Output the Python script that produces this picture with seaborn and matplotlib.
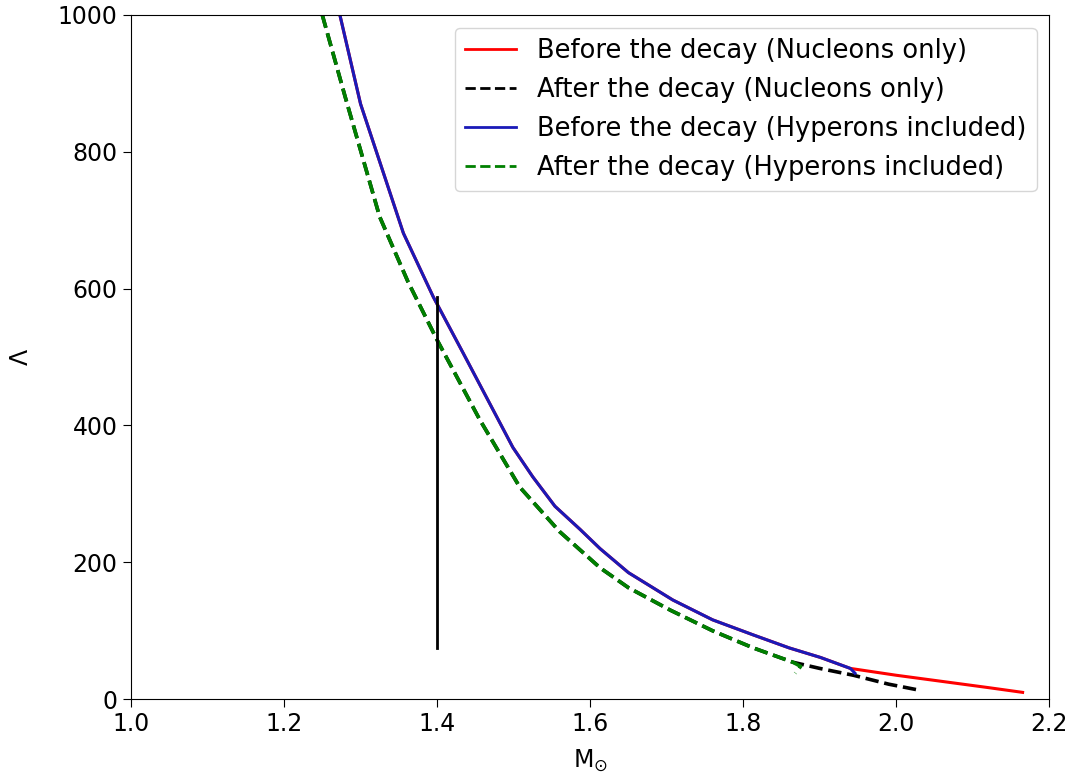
import pandas as pd
import seaborn as sns
import matplotlib.pyplot as plt

# Tidal deformability vs mass
m_before_hyp = [1.273, 1.30, 1.356, 1.395, 1.434, 1.499, 1.525, 1.554, 1.587, 1.613, 1.65, 1.708, 1.76, 1.813, 1.86, 1.901, 1.94, 1.946]
lam_before_hyp = [1000, 870, 681, 588, 506, 368, 325, 282, 248, 220, 185, 145, 116, 94, 75, 61, 45, 38]

m_before_nuc = m_before_hyp[:-1] + [2.0, 2.06, 2.12, 2.165]
lam_before_nuc = lam_before_hyp[:-1] + [35, 26, 17, 10]

m_after_hyp = [1.25, 1.28, 1.325, 1.362, 1.40, 1.456, 1.508, 1.56, 1.613, 1.65, 1.705, 1.76, 1.813, 1.865, 1.875, 1.868]
lam_after_hyp = [1000, 880, 705, 610, 525, 408, 310, 245, 192, 163, 130, 100, 75, 54, 48, 38]

m_after_nuc = m_after_hyp[:-2] + [1.90, 1.944, 1.99, 2.031]
lam_after_nuc = lam_after_hyp[:-2] + [45, 35, 22, 13]

m_bar = [1.4, 1.4]
lam_bar = [75, 588]

series = [
    ('Before the decay (Nucleons only)', m_before_nuc, lam_before_nuc, 'red', '-', 2.2),
    ('After the decay (Nucleons only)', m_after_nuc, lam_after_nuc, 'black', '--', 2.6),
    ('Before the decay (Hyperons included)', m_before_hyp, lam_before_hyp, '#1a1ab8', '-', 2.2),
    ('After the decay (Hyperons included)', m_after_hyp, lam_after_hyp, 'green', '--', 2.6),
]

plt.rcParams['font.size'] = 17
fig, ax = plt.subplots(figsize=(10.73, 7.83), dpi=100)
fig.subplots_adjust(left=0.122, right=0.978, top=0.981, bottom=0.107)

for label, m, lam, color, ls, lw in series:
    df = pd.DataFrame({'M': m, 'L': lam})
    sns.lineplot(data=df, x='M', y='L', sort=False, estimator=None, ax=ax,
                 color=color, linestyle=ls, linewidth=lw, label=label)

sns.lineplot(x=m_bar, y=lam_bar, sort=False, estimator=None, ax=ax,
             color='black', linewidth=2)

ax.set_xlim(1.0, 2.2)
ax.set_ylim(0, 1000)
ax.set_xlabel(r'M$_{\odot}$', fontsize=17, labelpad=8)
ax.set_ylabel(r'$\Lambda$', fontsize=17, labelpad=18)
ax.tick_params(labelsize=17, length=6)
leg = ax.legend(loc='upper right', fontsize=18.5)
for line in leg.get_lines():
    line.set_linewidth(2)
fig.savefig('out.png', dpi=100)
